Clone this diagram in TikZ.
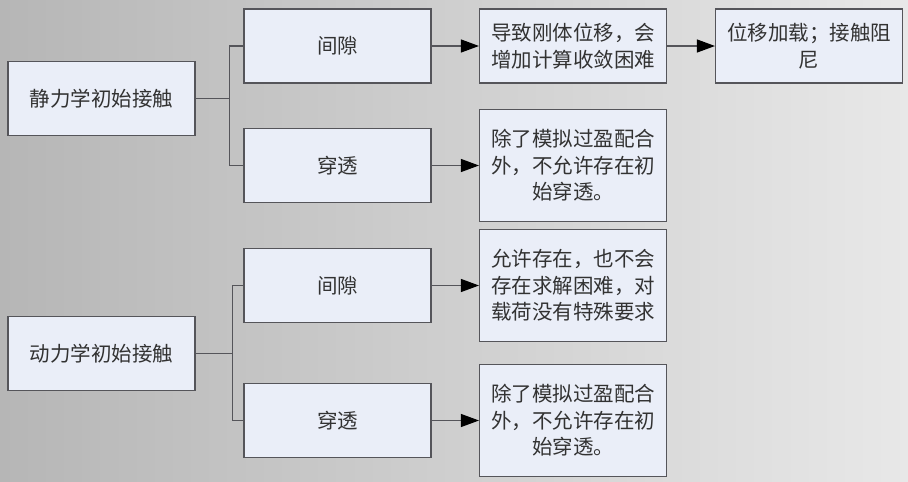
\documentclass[tikz,border=0pt]{standalone}
\usepackage{fontspec}
\setmainfont{Noto Sans CJK SC}
\usepackage{tikz}
\usetikzlibrary{arrows.meta, positioning}

\definecolor{boxfill}{RGB}{234,238,248}
\definecolor{boxline}{RGB}{85,85,90}
\definecolor{textgray}{RGB}{50,50,50}

\begin{document}
\begin{tikzpicture}[x=1pt, y=1pt, on grid, node distance=236pt,
    box/.style={draw=boxline, line width=1.1pt, fill=boxfill, text=textgray,
        minimum width=187pt, minimum height=74pt, align=center,
        font=\fontsize{20.5}{26.5}\selectfont},
    tallbox/.style={box, minimum height=112pt},
    branch/.style={draw=boxline, line width=1.1pt},
    flow/.style={branch, -{Triangle[length=18pt, width=13pt, color=black]}}]
        % background
        \shade[left color={rgb,255:red,182;green,182;blue,182},
            right color={rgb,255:red,232;green,232;blue,232}]
            (0,0) rectangle (908,-482);
        \useasboundingbox (0,0) rectangle (908,-482);

        % Define the nodes
        \node[box] (static) at (101.5,-98.5) {静力学初始接触};
        \node[box] (sgap) [above right=52.5pt and 236pt of static] {间隙};
        \node[box] (spen) [below right=67pt and 236pt of static] {穿透};
        \node[box] (sgapres) [right=235.5pt of sgap] {导致刚体位移，会\\增加计算收敛困难};
        \node[box] (sgapfix) [right=236pt of sgapres] {位移加载；接触阻\\尼};
        \node[tallbox] (spenres) [right=235.5pt of spen] {除了模拟过盈配合\\外，不允许存在初\\始穿透。};

        \node[box] (dyn) at (101.5,-353.5) {动力学初始接触};
        \node[box] (dgap) [above right=68pt and 236pt of dyn] {间隙};
        \node[box] (dpen) [below right=67pt and 236pt of dyn] {穿透};
        \node[tallbox] (dgapres) [right=235.5pt of dgap] {允许存在，也不会\\存在求解困难，对\\载荷没有特殊要求};
        \node[tallbox] (dpenres) [right=235.5pt of dpen] {除了模拟过盈配合\\外，不允许存在初\\始穿透。};

        % Define the connections
        \draw[branch] (static.east) -- ++(34,0) coordinate (sfork);
        \draw[branch] (sfork) |- (sgap.west);
        \draw[branch] (sfork) |- (spen.west);
        \draw[branch] (dyn.east) -- ++(37,0) coordinate (dfork);
        \draw[branch] (dfork) |- (dgap.west);
        \draw[branch] (dfork) |- (dpen.west);

        \draw[flow] (sgap) -- (sgapres);
        \draw[flow] (sgapres) -- (sgapfix);
        \draw[flow] (spen) -- (spenres);
        \draw[flow] (dgap) -- (dgapres);
        \draw[flow] (dpen) -- (dpenres);
    \end{tikzpicture}
\end{document}
